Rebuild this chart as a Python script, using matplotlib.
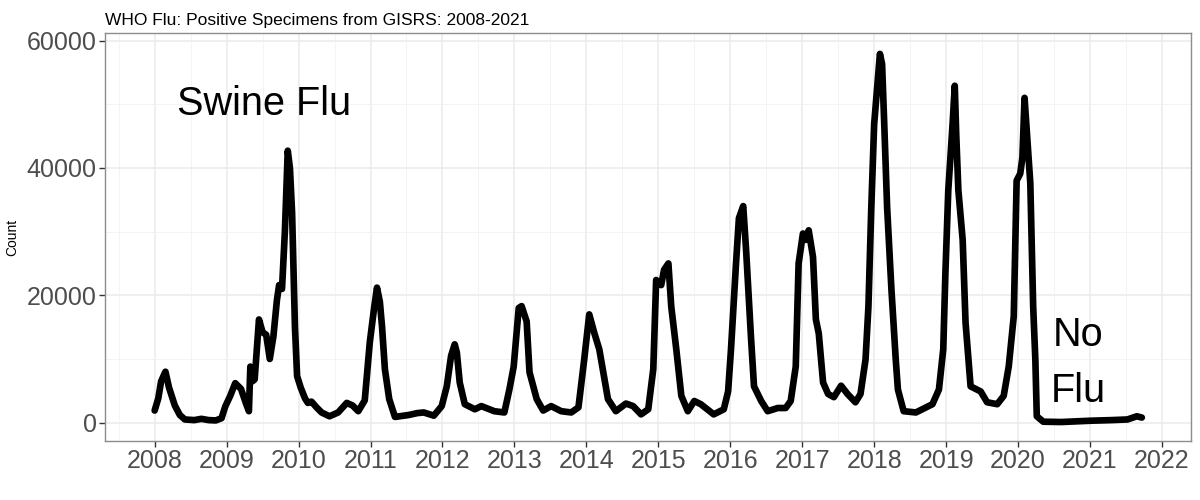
"""WHO flu positive specimens, GISRS 2008-2021, drawn in a ggplot-like theme."""

import matplotlib

matplotlib.use("Agg")
import matplotlib.pyplot as plt
from matplotlib.ticker import MultipleLocator

plt.rcParams["font.family"] = ["Liberation Sans", "DejaVu Sans"]

# decimal year of each reading, and positive specimen count
years = [
    2008.00, 2008.05, 2008.09, 2008.15, 2008.20, 2008.28, 2008.35, 2008.42,
    2008.55, 2008.65, 2008.75, 2008.85, 2008.93, 2008.98, 2009.05, 2009.12,
    2009.20, 2009.27, 2009.31, 2009.33, 2009.36, 2009.39, 2009.45, 2009.50,
    2009.55, 2009.60, 2009.65, 2009.70, 2009.73, 2009.77, 2009.81, 2009.85,
    2009.88, 2009.91, 2009.95, 2009.98, 2010.03, 2010.09, 2010.13, 2010.18,
    2010.25, 2010.32, 2010.43, 2010.55, 2010.67, 2010.75, 2010.83, 2010.92,
    2010.99, 2011.05, 2011.09, 2011.13, 2011.16, 2011.20, 2011.26, 2011.34,
    2011.53, 2011.65, 2011.74, 2011.88, 2011.99, 2012.06, 2012.12, 2012.17,
    2012.20, 2012.24, 2012.31, 2012.45, 2012.54, 2012.72, 2012.86, 2012.93,
    2012.99, 2013.06, 2013.10, 2013.17, 2013.21, 2013.31, 2013.40, 2013.51,
    2013.65, 2013.79, 2013.89, 2013.97, 2014.04, 2014.11, 2014.18, 2014.30,
    2014.41, 2014.55, 2014.65, 2014.76, 2014.86, 2014.93, 2014.97, 2015.04,
    2015.08, 2015.14, 2015.18, 2015.25, 2015.32, 2015.41, 2015.50, 2015.59,
    2015.77, 2015.91, 2015.97, 2016.01, 2016.08, 2016.12, 2016.18, 2016.22,
    2016.29, 2016.33, 2016.43, 2016.52, 2016.66, 2016.77, 2016.84, 2016.91,
    2016.95, 2017.01, 2017.05, 2017.09, 2017.15, 2017.19, 2017.23, 2017.29,
    2017.36, 2017.44, 2017.54, 2017.63, 2017.74, 2017.81, 2017.88, 2017.92,
    2017.96, 2018.00, 2018.05, 2018.08, 2018.11, 2018.14, 2018.18, 2018.24,
    2018.30, 2018.33, 2018.41, 2018.58, 2018.72, 2018.81, 2018.90, 2018.96,
    2018.99, 2019.03, 2019.09, 2019.12, 2019.14, 2019.17, 2019.23, 2019.27,
    2019.31, 2019.34, 2019.48, 2019.57, 2019.71, 2019.80, 2019.87, 2019.94,
    2019.98, 2020.03, 2020.06, 2020.09, 2020.13, 2020.17, 2020.21, 2020.24,
    2020.26, 2020.35, 2020.60, 2020.80, 2021.00, 2021.30, 2021.52, 2021.65,
    2021.72,
]
counts = [
    1900, 3800, 6500, 8000, 5500, 2700, 1200, 500,
    400, 600, 400, 350, 700, 2500, 4200, 6200,
    5300, 3000, 1800, 8800, 6500, 6800, 16200, 14200,
    13800, 10000, 13500, 19300, 21600, 21000, 30000, 42700,
    40000, 33000, 15000, 7300, 5500, 3800, 3100, 3300,
    2400, 1600, 1000, 1600, 3100, 2700, 1800, 3500,
    12600, 18000, 21200, 19000, 15100, 8400, 3700, 900,
    1200, 1500, 1600, 1100, 2600, 5700, 10500, 12300,
    11000, 6300, 2900, 2100, 2600, 1800, 1600, 5200,
    8800, 18000, 18300, 15900, 7900, 3700, 1900, 2600,
    1800, 1600, 2400, 9900, 17000, 14100, 11500, 3700,
    1800, 3000, 2600, 1300, 2100, 8400, 22400, 21600,
    24000, 25000, 18200, 11500, 4200, 1800, 3400, 2900,
    1300, 2100, 4900, 11500, 25000, 32100, 34000, 27100,
    13000, 5700, 3400, 1800, 2300, 2300, 3400, 8800,
    25000, 29700, 28700, 30200, 26000, 16200, 14000, 6300,
    4500, 4000, 5800, 4500, 3200, 4500, 9900, 18200,
    33800, 46900, 53700, 57900, 56300, 46900, 33800, 20900,
    9900, 5200, 1800, 1600, 2400, 2900, 5200, 11500,
    23500, 36500, 46900, 52900, 45400, 36500, 28700, 15700,
    9900, 5700, 4900, 3200, 2900, 4200, 8800, 16700,
    38000, 39100, 41600, 51000, 44300, 37600, 18200, 9900,
    1000, 150, 100, 200, 300, 400, 500, 1000,
    800,
]

year_ticks = list(range(2008, 2023))
count_ticks = [0, 20000, 40000, 60000]

fig = plt.figure(figsize=(12, 5), dpi=100)
ax = fig.add_axes([0.0875, 0.118, 0.9054, 0.816])

ax.plot(years, counts, color="black", lw=4.8, solid_joinstyle="round",
        solid_capstyle="round", zorder=3)

ax.text(2009.52, 50000, "Swine Flu", fontsize=28.5, ha="center", va="center")
ax.text(2020.84, 9300, "No\nFlu", fontsize=28.5, ha="center", va="center",
        multialignment="center", linespacing=1.6)

ax.set_xlim(2007.31, 2022.41)
ax.set_ylim(-2880, 61180)
ax.set_xticks(year_ticks)
ax.set_yticks(count_ticks)
ax.xaxis.set_minor_locator(MultipleLocator(0.5))
ax.yaxis.set_minor_locator(MultipleLocator(10000))

ax.grid(which="major", color="#EBEBEB", lw=1.1, zorder=0)
ax.grid(which="minor", color="#F2F2F2", lw=0.6, zorder=0)
ax.set_axisbelow(True)
for spine in ax.spines.values():
    spine.set_color("#8C8C8C")
    spine.set_linewidth(1.0)

ax.tick_params(which="major", length=4, width=1.0, color="#333333",
               labelsize=18, labelcolor="#4D4D4D", pad=2)
ax.tick_params(which="minor", length=0)

ax.set_ylabel("Count", fontsize=10, labelpad=5)
ax.set_title("WHO Flu: Positive Specimens from GISRS: 2008-2021",
             fontsize=12.5, loc="left", pad=6)

fig.savefig("out.png", dpi=100)
plt.close(fig)
